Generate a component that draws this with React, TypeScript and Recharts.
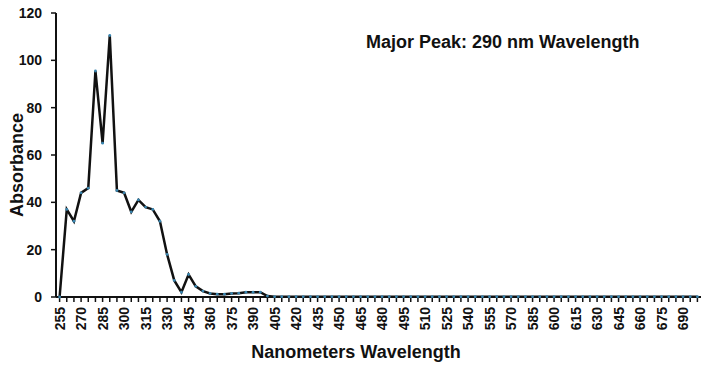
import React from "react";
import { LineChart, Line, XAxis, YAxis, Label } from "recharts";

const wavelengths = [
  255, 260, 265, 270, 275, 280, 285, 290, 295, 300, 305, 310, 315, 320, 325,
  330, 335, 340, 345, 350, 355, 360, 365, 370, 375, 380, 385, 390, 395, 400,
  405, 410, 415, 420, 425, 430, 435, 440, 445, 450, 455, 460, 465, 470, 475,
  480, 485, 490, 495, 500, 505, 510, 515, 520, 525, 530, 535, 540, 545, 550,
  555, 560, 565, 570, 575, 580, 585, 590, 595, 600, 605, 610, 615, 620, 625,
  630, 635, 640, 645, 650, 655, 660, 665, 670, 675, 680, 685, 690, 695, 700,
];

const absorbance = [
  0, 37, 32, 44, 46, 95.5, 65, 110.5, 45, 44, 36, 41, 38, 37, 32,
  18, 7, 2, 9.5, 4.5, 2.5, 1.5, 1.2, 1.2, 1.5, 1.6, 2, 2, 2, 0.4,
  0.1, 0.1, 0.1, 0.1, 0.1, 0.1, 0.1, 0.1, 0.1, 0.1, 0.1, 0.1, 0.1, 0.1, 0.1,
  0.1, 0.1, 0.1, 0.1, 0.1, 0.1, 0.1, 0.1, 0.1, 0.1, 0.1, 0.1, 0.1, 0.1, 0.1,
  0.1, 0.1, 0.1, 0.1, 0.1, 0.1, 0.1, 0.1, 0.1, 0.1, 0.1, 0.1, 0.1, 0.1, 0.1,
  0.1, 0.1, 0.1, 0.1, 0.1, 0.1, 0.1, 0.1, 0.1, 0.1, 0.1, 0.1, 0.1, 0.1, 0.1,
];

const yTicks = [0, 20, 40, 60, 80, 100, 120];
const annotation = "Major Peak: 290 nm Wavelength";
const xTitle = "Nanometers Wavelength";
const yTitle = "Absorbance";

const data = wavelengths.map((w, i) => ({ nm: String(w), abs: absorbance[i] }));

const FONT = "'Liberation Sans', Arial, sans-serif";

const XTick = (props: any) => {
  const { x, y, payload, index } = props;
  if (index % 3 !== 0) return null;
  const ty = y + 3;
  return (
    <text
      x={x}
      y={ty}
      transform={`rotate(-90, ${x}, ${ty})`}
      textAnchor="end"
      dominantBaseline="central"
      fontFamily={FONT}
      fontWeight="bold"
      fontSize={14}
      fill="#111"
    >
      {payload.value}
    </text>
  );
};

const Dot = (props: any) => {
  const { cx, cy, index } = props;
  if (cx == null || cy == null) return null;
  return <circle key={index} cx={cx} cy={cy} r={1.4} fill="#3a86b0" />;
};

export default function App() {
  return (
    <div style={{ position: "absolute", left: 0, top: 0, width: 710, height: 367, background: "#fff" }}>
      <LineChart
        width={710}
        height={367}
        data={data}
        margin={{ top: 13, right: 9, bottom: 0, left: 0 }}
      >
        <XAxis
          dataKey="nm"
          interval={0}
          tick={<XTick />}
          tickSize={5}
          height={70}
          padding={{ left: 3.6, right: 3.6 }}
          axisLine={{ stroke: "#111", strokeWidth: 2 }}
          tickLine={{ stroke: "#111", strokeWidth: 1.5 }}
        >
          <Label
            content={() => (
              <text
                x={356}
                y={358}
                textAnchor="middle"
                fontFamily={FONT}
                fontWeight="bold"
                fontSize={18}
                fill="#111"
              >
                {xTitle}
              </text>
            )}
          />
        </XAxis>
        <YAxis
          width={56}
          domain={[0, 120]}
          ticks={yTicks}
          tickSize={5}
          tickMargin={9}
          axisLine={{ stroke: "#111", strokeWidth: 2 }}
          tickLine={{ stroke: "#111", strokeWidth: 1.5 }}
          tick={{ fill: "#111", fontFamily: FONT, fontWeight: "bold", fontSize: 14 }}
        >
          <Label
            content={() => (
              <text
                x={23}
                y={165}
                transform="rotate(-90, 23, 165)"
                textAnchor="middle"
                fontFamily={FONT}
                fontWeight="bold"
                fontSize={18}
                fill="#111"
              >
                {yTitle}
              </text>
            )}
          />
        </YAxis>
        <Line
          type="linear"
          dataKey="abs"
          stroke="#111"
          strokeWidth={2.5}
          dot={<Dot />}
          activeDot={false}
          isAnimationActive={false}
        />
      </LineChart>
      <div
        style={{
          position: "absolute",
          left: 366,
          top: 30,
          fontFamily: FONT,
          fontWeight: "bold",
          fontSize: 18,
          color: "#111",
          whiteSpace: "nowrap",
          lineHeight: "24px",
        }}
      >
        {annotation}
      </div>
    </div>
  );
}
